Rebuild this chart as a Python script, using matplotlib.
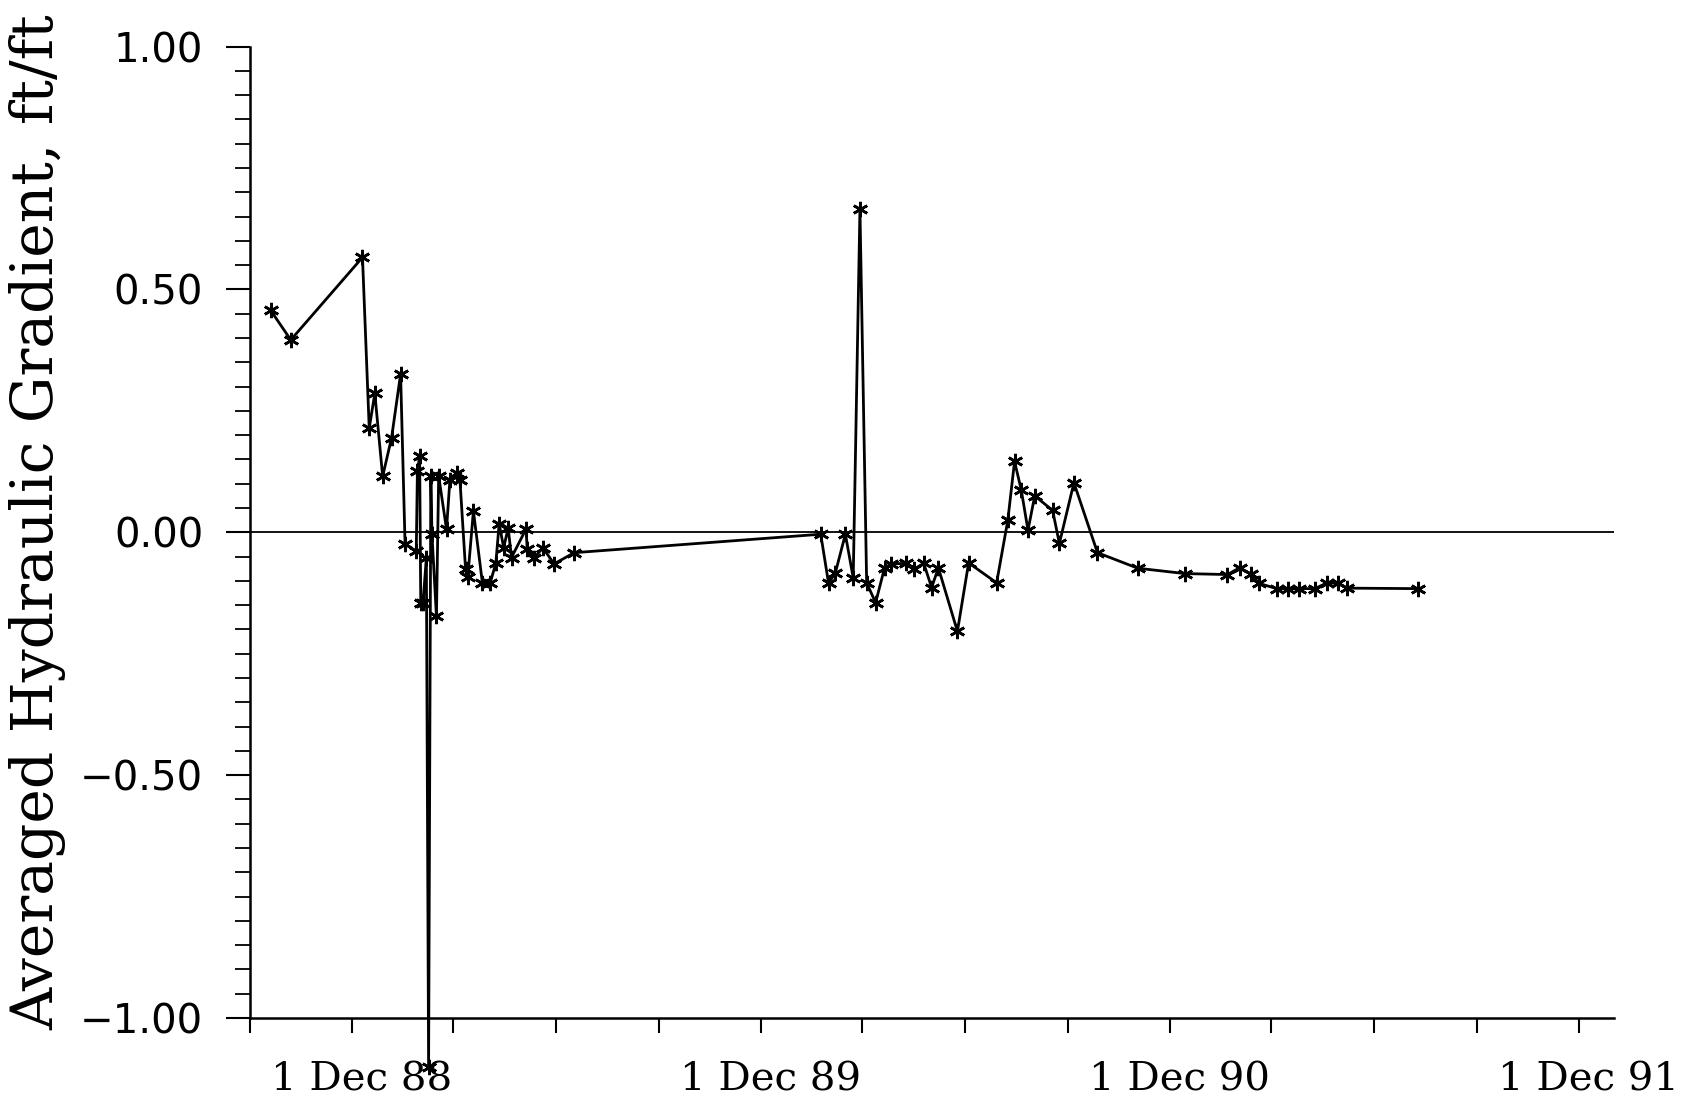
import numpy as np
import matplotlib
matplotlib.use("Agg")
import matplotlib.pyplot as plt
import matplotlib.dates as mdates
import matplotlib.transforms as mtransforms

# sampling dates and averaged hydraulic gradient (ft/ft)
dates = np.array([
    '1988-09-19', '1988-10-07', '1988-12-10', '1988-12-16', '1988-12-21',
    '1988-12-28', '1989-01-05', '1989-01-13', '1989-01-17', '1989-01-27',
    '1989-01-28', '1989-01-30', '1989-01-31', '1989-02-02', '1989-02-05',
    '1989-02-07', '1989-02-09', '1989-02-10', '1989-02-14', '1989-02-16',
    '1989-02-23', '1989-02-26', '1989-03-04', '1989-03-07', '1989-03-12',
    '1989-03-14', '1989-03-19', '1989-03-27', '1989-04-03', '1989-04-08',
    '1989-04-11', '1989-04-15', '1989-04-19', '1989-04-22', '1989-05-05',
    '1989-05-06', '1989-05-12', '1989-05-20', '1989-05-30', '1989-06-17',
    '1990-01-23', '1990-01-30', '1990-02-05', '1990-02-14', '1990-02-21',
    '1990-02-27', '1990-03-05', '1990-03-13', '1990-03-21', '1990-03-27',
    '1990-04-09', '1990-04-16', '1990-04-25', '1990-05-02', '1990-05-08',
    '1990-05-25', '1990-06-04', '1990-06-29', '1990-07-09', '1990-07-15',
    '1990-07-21', '1990-07-27', '1990-08-02', '1990-08-18', '1990-08-24',
    '1990-09-06', '1990-09-27', '1990-11-02', '1990-12-14', '1991-01-21',
    '1991-02-01', '1991-02-11', '1991-02-18', '1991-03-06', '1991-03-16',
    '1991-03-26', '1991-04-09', '1991-04-20', '1991-04-30', '1991-05-08',
    '1991-07-10'], dtype='datetime64[D]')

gradient = np.array([
    0.457, 0.396, 0.566, 0.214, 0.286,
    0.115, 0.195, 0.326, -0.024, -0.039,
    0.126, 0.157, -0.146, -0.145, -0.053,
    -1.10, 0.116, -0.004, -0.173, 0.116,
    0.006, 0.107, 0.123, 0.107, -0.076,
    -0.092, 0.044, -0.104, -0.104, -0.064,
    0.018, -0.032, 0.009, -0.052, 0.007,
    -0.034, -0.053, -0.032, -0.065, -0.042,
    -0.004, -0.105, -0.084, -0.004, -0.094,
    0.666, -0.104, -0.145, -0.073, -0.065,
    -0.064, -0.076, -0.064, -0.114, -0.073,
    -0.204, -0.063, -0.104, 0.025, 0.146,
    0.087, 0.004, 0.075, 0.045, -0.023,
    0.102, -0.042, -0.074, -0.085, -0.087,
    -0.073, -0.086, -0.105, -0.116, -0.116,
    -0.116, -0.116, -0.104, -0.105, -0.115,
    -0.116])

ylabel = "Averaged Hydraulic Gradient, ft/ft"

fig = plt.figure(figsize=(16.98, 11.08), dpi=100)
ax = fig.add_axes([0.1475, 0.0812, 0.803, 0.8768])

ax.axhline(0.0, color='black', lw=1.3, zorder=1)
ax.plot(dates, gradient, color='black', lw=2.0, marker=(6, 2, 0),
        markersize=11, markeredgewidth=1.9, clip_on=False, zorder=3)

ax.set_xlim(np.datetime64('1988-09-01'), np.datetime64('1992-01-01'))
ax.set_ylim(-1.0, 1.0)

for s in ['top', 'right']:
    ax.spines[s].set_visible(False)
for s in ['left', 'bottom']:
    ax.spines[s].set_linewidth(1.8)

ax.xaxis.set_major_locator(mdates.MonthLocator(bymonth=12, bymonthday=1))
ax.xaxis.set_minor_locator(mdates.MonthLocator(bymonth=[3, 6, 9], bymonthday=1))
ax.xaxis.set_major_formatter(mdates.DateFormatter('1 Dec %y'))
ax.tick_params(axis='x', which='both', direction='out', length=11, width=1.5,
               pad=20)
shift = mtransforms.ScaledTranslation(9 / 100, 0, fig.dpi_scale_trans)
for lab in ax.get_xticklabels():
    lab.set_fontfamily('DejaVu Serif')
    lab.set_fontsize(29)
    lab.set_transform(lab.get_transform() + shift)

ax.set_yticks([-1.0, -0.5, 0.0, 0.5, 1.0])
ax.set_yticks(np.arange(-1.0, 1.001, 0.05), minor=True)
ax.set_yticklabels([f"{v:.2f}".replace('-', '\u2212') for v in [-1.0, -0.5, 0.0, 0.5, 1.0]],
                   fontsize=29, fontfamily='DejaVu Sans')
ax.tick_params(axis='y', which='major', direction='out', length=17, width=1.5, pad=17)
ax.tick_params(axis='y', which='minor', direction='out', length=11, width=1.3)

fig.text(38 / 1698, 1 - 522 / 1108, ylabel, rotation=90, ha='center', va='center',
         fontsize=42, fontfamily='DejaVu Serif')

fig.savefig('out.png', dpi=100)
